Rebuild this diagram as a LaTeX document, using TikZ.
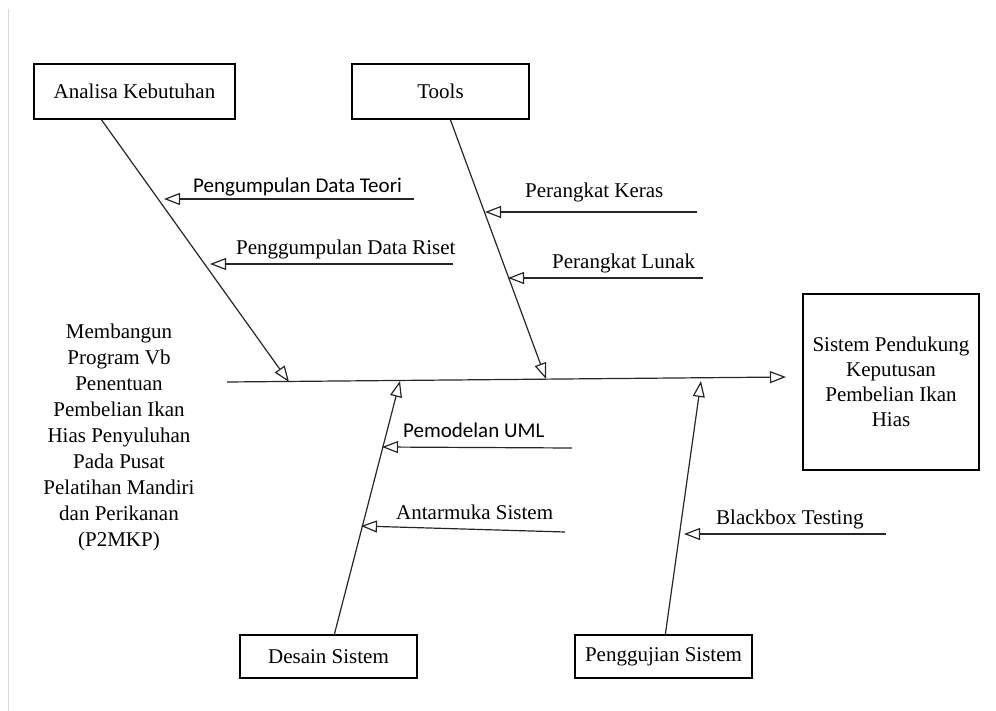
\documentclass[tikz,border=0pt]{standalone}
\usepackage{fontspec}
\setmainfont{Liberation Serif}
\newfontfamily\calfont{Carlito}
\usetikzlibrary{arrows.meta}
\begin{document}
\begin{tikzpicture}[x=1pt,y=-1pt,
  bone/.style={line width=1.2pt, draw=black!85},
  tipped/.style={-{Triangle[open,length=16pt,width=12pt,line width=1.2pt]}},
  box/.style={draw, line width=1.3pt, inner sep=0pt, font=\fontsize{21}{25}\selectfont},
  lbl/.style={anchor=base west, inner sep=0pt, font=\fontsize{21}{25}\selectfont},
  sanslbl/.style={anchor=base west, inner sep=0pt, font=\calfont\fontsize{21}{25}\selectfont}]
\useasboundingbox (0,0) rectangle (996,711);
\draw[gray!30, line width=1pt] (8,9) -- (8,711);

% boxes
\node[box, minimum width=201pt, minimum height=55pt] (ana) at (134.5,91.5) {Analisa Kebutuhan};
\node[box, minimum width=177pt, minimum height=55pt] (tools) at (440.5,91.5) {Tools};
\node[box, minimum width=177pt, minimum height=43pt] (des) at (328.5,656.5) {Desain Sistem};
\node[box, minimum width=177pt, minimum height=43pt] (uji) at (663.5,656.5) {Penggujian Sistem};
\node[box, minimum width=176pt, minimum height=176pt, align=center] (spk) at (891,382)
  {Sistem Pendukung\\Keputusan\\Pembelian Ikan\\Hias};
\node[align=center, inner sep=0pt, font=\fontsize{21}{26}\selectfont] (prob) at (119,437)
  {Membangun\\Program Vb\\Penentuan\\Pembelian Ikan\\Hias Penyuluhan\\Pada Pusat\\Pelatihan Mandiri\\dan Perikanan\\(P2MKP)};

% spine
\coordinate (spL) at (227,382);
\coordinate (spR) at (786,377);
\draw[bone,tipped] (spL) -- (spR);

% main bones
\coordinate (tA) at (289,382);
\coordinate (tT) at (546,379);
\coordinate (tD) at (400,381);
\coordinate (tU) at (701,381);
\draw[bone,tipped] ([xshift=68pt]ana.south west) -- (tA);
\draw[bone,tipped] ([xshift=99pt]tools.south west) -- (tT);
\draw[bone,tipped] ([xshift=95pt]des.north west) -- (tD);
\draw[bone,tipped] ([xshift=91pt]uji.north west) -- (tU);

% sub-causes
\coordinate (a1s) at (414,199); \coordinate (a1t) at (164,199);
\coordinate (a2s) at (453,264); \coordinate (a2t) at (210,264);
\coordinate (b1s) at (697,212); \coordinate (b1t) at (485,212);
\coordinate (b2s) at (703,278); \coordinate (b2t) at (508,278);
\coordinate (c1s) at (572,448); \coordinate (c1t) at (382,447);
\coordinate (c2s) at (565,532); \coordinate (c2t) at (361,526);
\coordinate (d1s) at (886,534); \coordinate (d1t) at (684,534);
\draw[bone,tipped] (a1s) -- (a1t);
\draw[bone,tipped] (a2s) -- (a2t);
\draw[bone,tipped] (b1s) -- (b1t);
\draw[bone,tipped] (b2s) -- (b2t);
\draw[bone,tipped] (c1s) -- (c1t);
\draw[bone,tipped] (c2s) -- (c2t);
\draw[bone,tipped] (d1s) -- (d1t);

% labels
\node[sanslbl] (la1) at (193,193) {Pengumpulan Data Teori};
\node[lbl] (la2) at (236,255) {Penggumpulan Data Riset};
\node[lbl] (lb1) at (525,198) {Perangkat Keras};
\node[lbl] (lb2) at (552,269) {Perangkat Lunak};
\node[sanslbl] (lc1) at (403,437) {Pemodelan UML};
\node[lbl] (lc2) at (396,519) {Antarmuka Sistem};
\node[lbl] (ld1) at (716,524) {Blackbox Testing};
\end{tikzpicture}
\end{document}
